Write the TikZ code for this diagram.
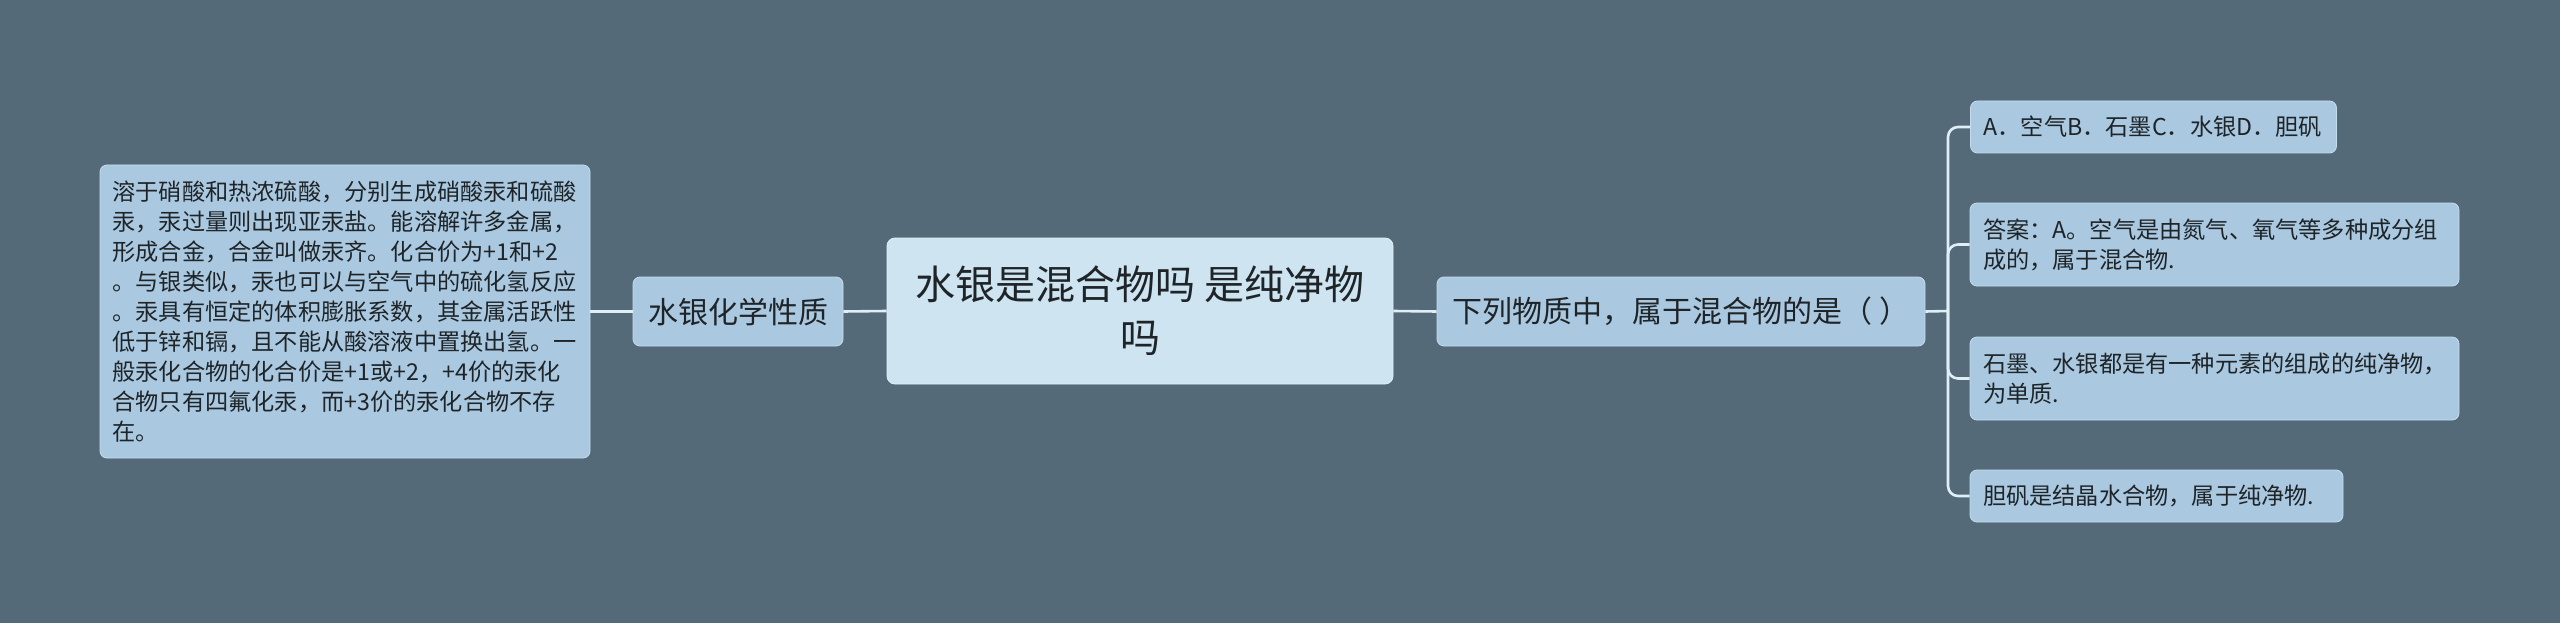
\documentclass[tikz,border=0pt]{standalone}
\usepackage{fontspec}
\setmainfont{Noto Sans CJK SC}
\definecolor{bgc}{RGB}{84,106,121}
\definecolor{childfill}{RGB}{170,201,224}
\definecolor{childline}{RGB}{196,220,236}
\definecolor{rootfill}{RGB}{206,228,241}
\definecolor{rootline}{RGB}{228,240,248}
\definecolor{linkc}{RGB}{222,239,247}
\definecolor{txt}{RGB}{30,36,40}
\tikzset{
  box/.style={draw=childline, line width=0.8pt, fill=childfill, rounded corners=7pt,
    inner sep=0pt, text=txt, align=left},
  rootbox/.style={draw=rootline, line width=0.8pt, fill=rootfill, rounded corners=8pt,
    inner sep=0pt, text=txt, align=center},
  small/.style={font=\fontsize{23.2}{30}\selectfont},
  mid/.style={font=\fontsize{30}{36}\selectfont},
  big/.style={font=\fontsize{40}{53}\selectfont},
  link/.style={draw=linkc, line width=2.6pt},
}
\begin{document}
\begin{tikzpicture}[x=1pt,y=-1pt]
\fill[bgc] (0,0) rectangle (2560,623);
\useasboundingbox (0,0) rectangle (2560,623);

\node[rootbox, big, minimum width=506pt, minimum height=146pt] (root) at (1140,311)
  {水银是混合物吗 是纯净物\\吗};
\node[box, mid, align=center, minimum width=210pt, minimum height=69pt] (chem) at (738,311.5)
  {水银化学性质};
\node[box, small, text width=465pt, minimum width=490pt, minimum height=293pt] (detail) at (345,311.5)
  {溶于硝酸和热浓硫酸，分别生成硝酸汞和硫酸\\
   汞，汞过量则出现亚汞盐。能溶解许多金属，\\
   形成合金，合金叫做汞齐。化合价为+1和+2\\
   。与银类似，汞也可以与空气中的硫化氢反应\\
   。汞具有恒定的体积膨胀系数，其金属活跃性\\
   低于锌和镉，且不能从酸溶液中置换出氢。一\\
   般汞化合物的化合价是+1或+2，+4价的汞化\\
   合物只有四氟化汞，而+3价的汞化合物不存\\
   在。};
\node[box, mid, align=center, minimum width=488pt, minimum height=69pt] (q) at (1681,311.5)
  {下列物质中，属于混合物的是（~）};

\node[box, small, minimum height=52pt, text width=340pt, minimum width=366pt] (b1) at (2153.5,127)
  {A．空气B．石墨C．水银D．胆矾};
\node[box, small, minimum height=83pt, text width=463pt, minimum width=489pt] (b2) at (2214.5,244.5)
  {答案：A。空气是由氮气、氧气等多种成分组\\成的，属于混合物.};
\node[box, small, minimum height=83pt, text width=463pt, minimum width=489pt] (b3) at (2214.5,378.5)
  {石墨、水银都是有一种元素的组成的纯净物，\\为单质.};
\node[box, small, minimum height=52pt, text width=347pt, minimum width=373pt] (b4) at (2156.5,496)
  {胆矾是结晶水合物，属于纯净物.};

\coordinate (j) at (1948,311);

\path[link] (detail.east) -- (chem.west);
\path[link] (chem.east) -- (root.west);
\path[link] (root.east) -- (q.west);
\path[link] (q.east) -- (j);
\path[link, rounded corners=10pt] (b1.west) -| (j) |- (b4.west);
\path[link, rounded corners=10pt] (j) |- (b2.west);
\path[link, rounded corners=10pt] (j) |- (b3.west);
\end{tikzpicture}
\end{document}
